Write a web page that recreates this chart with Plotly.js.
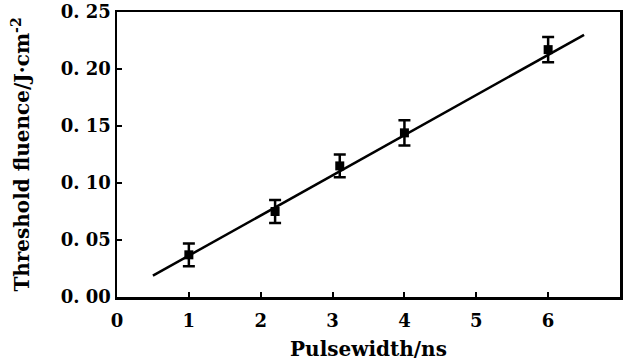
<!DOCTYPE html>
<html><head><meta charset="utf-8">
<script src="https://cdn.plot.ly/plotly-3.0.1.min.js"></script>
<style>html,body{margin:0;padding:0;background:#fff}</style>
</head><body><div id="chart" style="width:624px;height:363px"></div>
<script>
// Data
const pulseWidth = [1, 2.2, 3.1, 4, 6];
const thresholdFluence = [0.037, 0.075, 0.115, 0.144, 0.217];
const errorBars = [0.010, 0.010, 0.010, 0.011, 0.011];
const fitX = [0.5, 6.5];
const fitY = [0.0187, 0.230];
const xTicks = [0, 1, 2, 3, 4, 5, 6, 7];
const yTicks = [0, 0.05, 0.10, 0.15, 0.20, 0.25];
const yTickText = ['0. 00', '0. 05', '0. 10', '0. 15', '0. 20', '0. 25'];

const serif = '"DejaVu Serif", "Liberation Serif", serif';
const traces = [
  {x: fitX, y: fitY, mode: 'lines', line: {color: '#000', width: 2.5}, hoverinfo: 'skip', showlegend: false},
  {x: pulseWidth, y: thresholdFluence, mode: 'markers',
   marker: {symbol: 'square', size: 9, color: '#000'},
   error_y: {type: 'data', array: errorBars, visible: true, color: '#000', thickness: 2.5, width: 6},
   showlegend: false}
];
const layout = {
  width: 624, height: 363,
  margin: {l: 117, r: 4, t: 12, b: 66},
  paper_bgcolor: '#fff', plot_bgcolor: '#fff',
  font: {family: serif, color: '#000'},
  xaxis: {
    range: [0, 7], tickvals: xTicks, ticktext: xTicks.map(String),
    showgrid: false, zeroline: false, showline: true, linecolor: '#000', linewidth: 2.5, mirror: true,
    ticks: 'inside', ticklen: 5, tickwidth: 2, tickcolor: '#000',
    ticklabelstandoff: 6,
    tickfont: {family: serif, size: 18, weight: 'bold', color: '#000'},
    title: {text: 'Pulsewidth/ns', font: {family: serif, size: 20, weight: 'bold', color: '#000'}, standoff: 12}
  },
  yaxis: {
    range: [0, 0.25], tickvals: yTicks, ticktext: yTickText,
    showgrid: false, zeroline: false, showline: true, linecolor: '#000', linewidth: 2.5, mirror: true,
    ticks: 'inside', ticklen: 5, tickwidth: 2, tickcolor: '#000',
    tickfont: {family: serif, size: 18, weight: 'bold', color: '#000'},
    title: {text: 'Threshold fluence/J·cm<sup>-2</sup>', font: {family: serif, size: 20, weight: 'bold', color: '#000'}, standoff: 26}
  }
};
Plotly.newPlot('chart', traces, layout, {displayModeBar: false, staticPlot: true});
</script></body></html>
